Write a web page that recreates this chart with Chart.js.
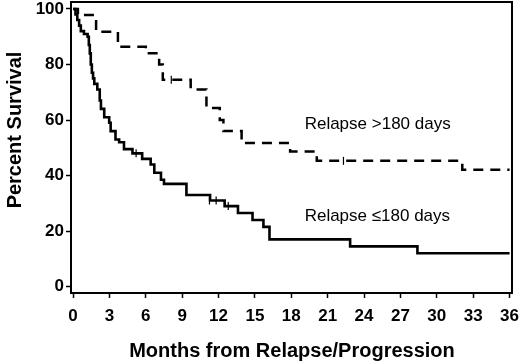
<!DOCTYPE html>
<html>
<head>
<meta charset="utf-8">
<script src="https://cdn.jsdelivr.net/npm/chart.js@4.4.1/dist/chart.umd.min.js"></script>
<style>
  html, body { margin: 0; padding: 0; background: #fff; }
  #wrap { width: 520px; height: 363px; }
</style>
</head>
<body>
<div id="wrap"><canvas id="c"></canvas></div>
<script>
// Tick labels
const xTicks = [0, 3, 6, 9, 12, 15, 18, 21, 24, 27, 30, 33, 36];
const yTicks = [0, 20, 40, 60, 80, 100];

// Relapse >180 days (dashed)
const lateMonths = [0, 0.4, 1.9, 3.7, 6.0, 7.1, 7.4, 9.7, 11.0, 12.1, 12.4, 13.9, 17.9, 20.1, 32.1, 36];
const lateSurv   = [100, 97.8, 91.8, 86.4, 84, 80, 74.5, 71, 64.3, 60, 56, 51.7, 48.7, 45.3, 42.1, 42.1];
const lateCensorMonths = [8.1, 22.3];
const lateCensorSurv   = [74.5, 45.3];

// Relapse <=180 days (solid)
const earlyMonths = [0, 0.2, 0.35, 0.5, 0.64, 0.9, 1.2, 1.3, 1.38, 1.46, 1.55, 1.65, 1.75, 2.0, 2.2, 2.3, 2.57, 2.98, 3.1, 3.5, 3.8, 4.2, 4.9, 5.7, 6.4, 6.7, 7.25, 7.5, 9.35, 11.3, 12.5, 13.6, 14.8, 15.7, 16.2, 22.85, 28.4, 36];
const earlySurv   = [100, 98, 96, 94, 92, 91, 90, 87, 84, 80, 77, 75, 73, 71, 67, 64, 61, 59, 56, 53, 52, 49.5, 48, 46, 44, 41, 38.5, 37, 33, 31, 29, 26.5, 24, 21.5, 17, 14.5, 12, 12];
const earlyCensorMonths = [5.2, 11.25, 11.8, 12.8];
const earlyCensorSurv   = [48, 31, 31, 29];

const seriesLabels = ['Relapse >180 days', 'Relapse \u2264180 days'];

const toPoints = (xs, ys) => xs.map((x, i) => ({ x: x, y: ys[i] }));

// Frame, axis titles and curve labels
const decor = {
  id: 'decor',
  afterDraw(chart) {
    const { ctx, chartArea: a, scales } = chart;
    ctx.save();
    ctx.strokeStyle = '#000';
    ctx.lineWidth = 2;
    ctx.strokeRect(a.left, a.top, a.right - a.left, a.bottom - a.top);

    ctx.fillStyle = '#000';
    ctx.textAlign = 'center';
    ctx.textBaseline = 'middle';
    ctx.font = 'bold 20px "Liberation Sans", Arial, sans-serif';
    ctx.fillText('Months from Relapse/Progression', 292, 351);

    ctx.save();
    ctx.translate(15, 130);
    ctx.rotate(-Math.PI / 2);
    ctx.fillText('Percent Survival', 0, 0);
    ctx.restore();

    ctx.font = '17px "Liberation Sans", Arial, sans-serif';
    ctx.textAlign = 'left';
    ctx.fillText(seriesLabels[0], scales.x.getPixelForValue(19.1), scales.y.getPixelForValue(58.3));
    ctx.fillText(seriesLabels[1], scales.x.getPixelForValue(19.1), scales.y.getPixelForValue(25.3));
    ctx.restore();
  }
};

new Chart(document.getElementById('c'), {
  type: 'line',
  data: {
    datasets: [
      {
        label: seriesLabels[0],
        data: toPoints(lateMonths, lateSurv),
        stepped: true,
        borderColor: '#000',
        borderWidth: 2.5,
        borderDash: [10, 7],
        pointRadius: 0,
        fill: false
      },
      {
        label: seriesLabels[1],
        data: toPoints(earlyMonths, earlySurv),
        stepped: true,
        borderColor: '#000',
        borderWidth: 2.6,
        pointRadius: 0,
        fill: false
      },
      {
        label: 'censored',
        data: toPoints(lateCensorMonths, lateCensorSurv).concat(toPoints(earlyCensorMonths, earlyCensorSurv)),
        showLine: false,
        pointStyle: 'line',
        rotation: 90,
        pointRadius: 4,
        borderColor: '#000',
        borderWidth: 1.2
      }
    ]
  },
  options: {
    responsive: true,
    maintainAspectRatio: false,
    animation: false,
    layout: { autoPadding: false, padding: { left: 0, right: 8, top: 2, bottom: 0 } },
    plugins: {
      legend: { display: false },
      tooltip: { enabled: false }
    },
    scales: {
      x: {
        type: 'linear',
        min: -0.17,
        max: 36.2,
        afterBuildTicks: s => { s.ticks = xTicks.map(v => ({ value: v })); },
        afterFit: s => { s.height = 70; s.paddingLeft = 0; s.paddingRight = 0; },
        border: { display: false },
        grid: { drawOnChartArea: false, tickLength: 5, tickColor: '#000', tickWidth: 1.5 },
        ticks: {
          color: '#000',
          padding: 8,
          maxRotation: 0,
          autoSkip: false,
          font: { family: '"Liberation Sans", Arial, sans-serif', size: 17, weight: 'bold' }
        }
      },
      y: {
        min: -2.3,
        max: 102.5,
        afterBuildTicks: s => { s.ticks = yTicks.map(v => ({ value: v })); },
        afterFit: s => { s.width = 71; s.paddingTop = 0; s.paddingBottom = 0; },
        border: { display: false },
        grid: { drawOnChartArea: false, tickLength: 5, tickColor: '#000', tickWidth: 1.5 },
        ticks: {
          color: '#000',
          padding: 2,
          font: { family: '"Liberation Sans", Arial, sans-serif', size: 17, weight: 'bold' }
        }
      }
    }
  },
  plugins: [decor]
});
</script>
</body>
</html>
